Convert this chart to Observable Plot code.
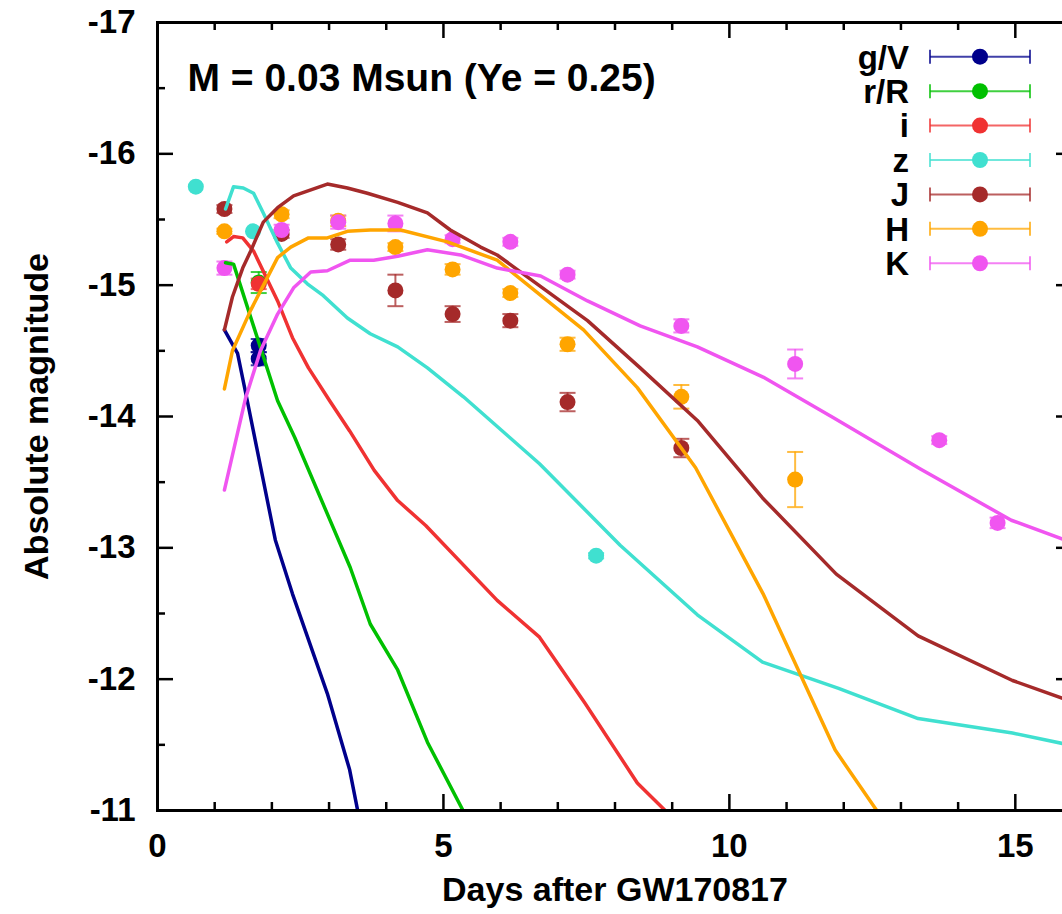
<!DOCTYPE html>
<html><head><meta charset="utf-8">
<script src="https://cdn.jsdelivr.net/npm/d3@7"></script>
<script src="https://cdn.jsdelivr.net/npm/@observablehq/plot@0.6"></script>
<style>
html,body{margin:0;padding:0;background:#fff;overflow:hidden;width:1062px;height:914px}
#chart{width:1062px;height:914px;overflow:hidden}
#chart svg{display:block;overflow:hidden;max-width:none !important;width:1080px !important;height:914px !important}
</style></head><body><div id="chart"></div>
<script>
// ---- categories ----
const bands = ["g/V", "r/R", "i", "z", "J", "H", "K"];
const bandColors = ["#00008b", "#00c000", "#f03232", "#40e0d0", "#a52a2a", "#ffa500", "#f055f0"];

// ---- model light curves (days, absolute magnitude) ----
const modelGV_t   = [1.17, 1.40, 1.57, 2.06, 2.36, 2.97, 3.36, 3.55];
const modelGV_mag = [-14.66, -14.48, -14.12, -13.06, -12.65, -11.89, -11.31, -10.89];

const modelRR_t   = [1.19, 1.33, 2.10, 2.40, 3.37, 3.72, 4.20, 4.72, 5.39];
const modelRR_mag = [-15.17, -15.16, -14.12, -13.84, -12.85, -12.42, -12.07, -11.52, -10.96];

const modelI_t   = [1.21, 1.33, 1.49, 1.68, 2.10, 2.36, 2.64, 3.01, 3.36, 3.79, 4.20, 4.69, 5.94, 6.68, 7.47, 8.39, 8.97];
const modelI_mag = [-15.33, -15.37, -15.36, -15.26, -14.88, -14.60, -14.37, -14.12, -13.89, -13.59, -13.36, -13.17, -12.60, -12.32, -11.82, -11.21, -10.96];

const modelZ_t   = [1.19, 1.33, 1.50, 1.68, 1.85, 2.10, 2.33, 2.62, 2.90, 3.32, 3.72, 4.20, 4.72, 5.35, 6.68, 8.09, 9.44, 10.58, 11.91, 13.30, 14.95, 16.05];
const modelZ_mag = [-15.58, -15.75, -15.74, -15.70, -15.55, -15.32, -15.13, -15.01, -14.92, -14.75, -14.63, -14.53, -14.37, -14.15, -13.64, -13.02, -12.49, -12.13, -11.93, -11.70, -11.59, -11.49];

const modelJ_t   = [1.17, 1.31, 1.49, 1.63, 1.85, 2.10, 2.38, 2.97, 3.32, 3.67, 4.20, 4.72, 5.12, 5.65, 5.94, 7.52, 8.44, 9.44, 10.58, 11.87, 13.30, 14.95, 16.05];
const modelJ_mag = [-14.66, -14.91, -15.13, -15.26, -15.48, -15.59, -15.68, -15.77, -15.74, -15.70, -15.63, -15.55, -15.42, -15.29, -15.23, -14.73, -14.37, -13.97, -13.38, -12.80, -12.33, -11.99, -11.82];

const modelH_t   = [1.17, 1.31, 1.63, 2.10, 2.33, 2.64, 2.97, 3.32, 3.72, 4.25, 5.07, 5.94, 7.45, 8.39, 9.41, 10.59, 11.85, 12.64];
const modelH_mag = [-14.21, -14.50, -14.81, -15.21, -15.29, -15.36, -15.36, -15.41, -15.42, -15.42, -15.33, -15.19, -14.66, -14.22, -13.61, -12.65, -11.46, -10.96];

const modelK_t   = [1.17, 1.54, 1.80, 2.10, 2.38, 2.68, 2.97, 3.37, 3.78, 4.20, 4.72, 5.30, 5.94, 6.70, 7.52, 8.44, 9.44, 10.59, 11.82, 13.34, 14.93, 16.05];
const modelK_mag = [-13.44, -14.14, -14.50, -14.78, -14.98, -15.10, -15.11, -15.19, -15.19, -15.22, -15.27, -15.23, -15.13, -15.07, -14.88, -14.69, -14.53, -14.30, -13.99, -13.60, -13.21, -13.03];

// ---- observations (days, magnitude, error) ----
const obsGV_t = [1.77, 1.77];
const obsGV_mag = [-14.54, -14.44];
const obsGV_err = [0.05, 0.05];

const obsRR_t = [1.77];
const obsRR_mag = [-15.02];
const obsRR_err = [0.08];

const obsI_t = [1.77];
const obsI_mag = [-15.01];
const obsI_err = [0.04];

const obsZ_t = [0.67, 1.67, 7.67];
const obsZ_mag = [-15.75, -15.41, -12.94];
const obsZ_err = [0, 0, 0.02];

const obsJ_t = [1.17, 2.17, 3.16, 4.16, 5.16, 6.17, 7.17, 9.16];
const obsJ_mag = [-15.58, -15.39, -15.31, -14.96, -14.78, -14.73, -14.11, -13.76];
const obsJ_err = [0.03, 0.03, 0.04, 0.12, 0.06, 0.05, 0.07, 0.07];

const obsH_t = [1.17, 2.17, 3.16, 4.16, 5.16, 6.17, 7.17, 9.16, 11.15];
const obsH_mag = [-15.41, -15.54, -15.49, -15.29, -15.12, -14.94, -14.55, -14.15, -13.52];
const obsH_err = [0.02, 0.03, 0.04, 0.03, 0.04, 0.03, 0.05, 0.09, 0.21];

const obsK_t = [1.17, 2.17, 3.16, 4.16, 5.16, 6.17, 7.17, 9.16, 11.15, 13.67, 14.69];
const obsK_mag = [-15.13, -15.42, -15.48, -15.47, -15.35, -15.33, -15.08, -14.69, -14.40, -13.82, -13.19];
const obsK_err = [0.05, 0.04, 0.05, 0.06, 0.03, 0.03, 0.03, 0.05, 0.11, 0.03, 0.04];

// ---- axes ----
const xDomain = [0, 16];
const yDomain = [-11, -17];
const xMajorTicks = [0, 5, 10, 15];
const xMinorTicks = [1, 2, 3, 4, 6, 7, 8, 9, 11, 12, 13, 14];
const yMajorTicks = [-17, -16, -15, -14, -13, -12, -11];
const yMinorTicks = [-16.5, -15.5, -14.5, -13.5, -12.5, -11.5];

const titleText = "M = 0.03 Msun (Ye = 0.25)";
const xLabel = "Days after GW170817";
const yLabel = "Absolute magnitude";

// ---- build tables ----
const modelSets = [
  [modelGV_t, modelGV_mag], [modelRR_t, modelRR_mag], [modelI_t, modelI_mag],
  [modelZ_t, modelZ_mag], [modelJ_t, modelJ_mag], [modelH_t, modelH_mag], [modelK_t, modelK_mag]
];
const obsSets = [
  [obsGV_t, obsGV_mag, obsGV_err], [obsRR_t, obsRR_mag, obsRR_err], [obsI_t, obsI_mag, obsI_err],
  [obsZ_t, obsZ_mag, obsZ_err], [obsJ_t, obsJ_mag, obsJ_err], [obsH_t, obsH_mag, obsH_err], [obsK_t, obsK_mag, obsK_err]
];
const models = modelSets.flatMap(([t, m], i) => t.map((d, j) => ({band: bands[i], t: d, mag: m[j]})));
const obs = obsSets.flatMap(([t, m, e], i) => t.map((d, j) => ({band: bands[i], t: d, mag: m[j], err: e[j]})));
const obsErr = obs.filter(d => d.err > 0);
const caps = obsErr.flatMap(d => [{band: d.band, t: d.t, mag: d.mag - d.err}, {band: d.band, t: d.t, mag: d.mag + d.err}]);

const capSymbol = {draw(ctx) { ctx.moveTo(-8, 0); ctx.lineTo(8, 0); }};

const W = 1080, H = 914, mL = 157, mR = 8, mT = 22, mB = 104;
const plotW = W - mL - mR, plotH = H - mT - mB;
const majorLen = 16, minorLen = 8;

const chart = Plot.plot({
  width: W, height: H,
  marginLeft: mL, marginRight: mR, marginTop: mT, marginBottom: mB,
  style: {fontFamily: "'Liberation Sans', Arial, Helvetica, sans-serif", fontWeight: "bold", fontSize: "33px", color: "#000", background: "#fff", maxWidth: "none"},
  x: {domain: xDomain},
  y: {domain: yDomain},
  color: {domain: bands, range: bandColors},
  marks: [
    // error bars and points
    Plot.ruleX(obsErr, {x: "t", y1: d => d.mag - d.err, y2: d => d.mag + d.err, stroke: "band", strokeWidth: 2, strokeOpacity: 0.75}),
    Plot.dot(caps, {x: "t", y: "mag", symbol: capSymbol, stroke: "band", strokeWidth: 2, strokeOpacity: 0.75, fill: "none"}),
    Plot.dot(obs, {x: "t", y: "mag", fill: "band", r: 8}),
    // model lines
    Plot.line(models, {x: "t", y: "mag", z: "band", stroke: "band", strokeWidth: 3.5, clip: true}),
    // tick marks (inward)
    Plot.tickX(xMajorTicks, {x: d => d, insetTop: plotH - majorLen, strokeWidth: 2.5}),
    Plot.tickX(xMinorTicks, {x: d => d, insetTop: plotH - minorLen, strokeWidth: 2.5}),
    Plot.tickX(xMajorTicks, {x: d => d, insetBottom: plotH - majorLen, strokeWidth: 2.5}),
    Plot.tickX(xMinorTicks, {x: d => d, insetBottom: plotH - minorLen, strokeWidth: 2.5}),
    Plot.tickY(yMajorTicks, {y: d => d, insetRight: plotW - majorLen, strokeWidth: 2.5}),
    Plot.tickY(yMinorTicks, {y: d => d, insetRight: plotW - minorLen, strokeWidth: 2.5}),
    Plot.tickY(yMajorTicks, {y: d => d, insetLeft: plotW - majorLen, strokeWidth: 2.5}),
    Plot.tickY(yMinorTicks, {y: d => d, insetLeft: plotW - minorLen, strokeWidth: 2.5}),
    Plot.frame({strokeWidth: 3}),
    // axis labels
    Plot.axisX({ticks: xMajorTicks, tickSize: 0, tickPadding: 23, tickFormat: d => String(d), label: null, fontSize: 33}),
    Plot.axisY({ticks: yMajorTicks, tickSize: 0, tickPadding: 22, tickFormat: d => String(d), label: null, fontSize: 33}),
    Plot.text([xLabel], {text: d => d, frameAnchor: "bottom", dy: 80, textAnchor: "middle", lineAnchor: "middle", fontSize: 34, fontWeight: "bold"}),
    Plot.text([yLabel], {text: d => d, frameAnchor: "left", rotate: -90, dx: -120, textAnchor: "middle", lineAnchor: "middle", fontSize: 34, fontWeight: "bold"}),
    Plot.text([titleText], {text: d => d, frameAnchor: "top-left", dx: 30, dy: 56, textAnchor: "start", lineAnchor: "middle", fontSize: 39, fontWeight: "bold"})
  ]
});
chart.style.maxWidth = "none";
document.getElementById("chart").appendChild(chart);

// legend
const svg = d3.select(chart);
const lg = svg.append("g").attr("font-family", "'Liberation Sans', Arial, sans-serif").attr("font-weight", "bold").attr("font-size", 33);
bands.forEach((b, i) => {
  const y = 56.7 + i * 34.43;
  const c = bandColors[i];
  lg.append("text").attr("x", 909).attr("y", y).attr("dy", "0.36em").attr("text-anchor", "end").attr("fill", "#000").text(b);
  const g = lg.append("g").attr("stroke", c).attr("stroke-width", 2).attr("stroke-opacity", 0.75);
  g.append("line").attr("x1", 930).attr("x2", 1030).attr("y1", y).attr("y2", y);
  g.append("line").attr("x1", 930).attr("x2", 930).attr("y1", y - 7).attr("y2", y + 7);
  g.append("line").attr("x1", 1030).attr("x2", 1030).attr("y1", y - 7).attr("y2", y + 7);
  lg.append("circle").attr("cx", 980).attr("cy", y).attr("r", 8).attr("fill", c);
});
</script></body></html>
